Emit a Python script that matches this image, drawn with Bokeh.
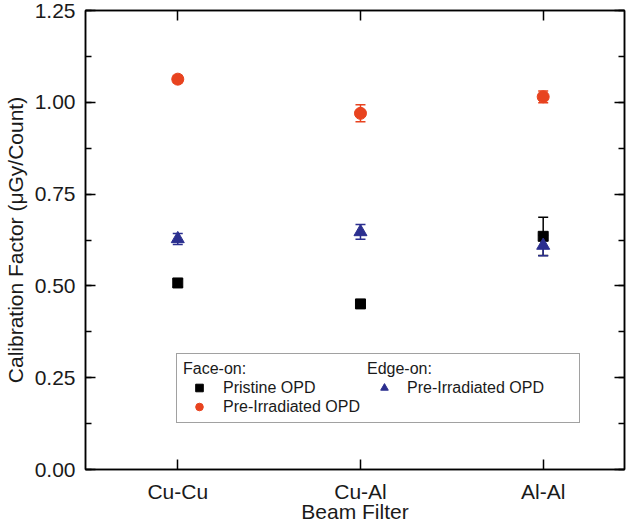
from bokeh.plotting import figure
from bokeh.models import (ColumnDataSource, Whisker, TeeHead, LinearAxis, FixedTicker,
                          SingleIntervalTicker, Range1d, Legend, LegendItem, NumeralTickFormatter,
                          CustomJSTickFormatter)
from bokeh.embed import file_html
from bokeh.resources import INLINE

# ---- data ----
categories = ["Cu-Cu", "Cu-Al", "Al-Al"]
pristine = [0.508, 0.451, 0.635]
pristine_err = [0.010, 0.010, 0.052]
preirr_face = [1.063, 0.970, 1.015]
preirr_face_err = [0.010, 0.023, 0.016]
preirr_edge = [0.628, 0.647, 0.610]
preirr_edge_err = [0.015, 0.020, 0.028]

FONT = "Liberation Sans"
TXT = "#1a1a1a"
RED = "#E8431F"
BLUE = "#2B2F8F"

xs = [i + 1 for i in range(len(categories))]

p = figure(width=632, height=525, x_range=Range1d(0.495, 3.445), y_range=Range1d(0, 1.25),
           output_backend="svg", toolbar_location=None,
           min_border_left=81, min_border_right=8, min_border_top=10, min_border_bottom=40,
           x_axis_location="below", y_axis_location="left")
p.xgrid.visible = False
p.ygrid.visible = False
p.outline_line_color = "black"
p.outline_line_width = 1.5
p.background_fill_color = "white"
p.border_fill_color = "white"

xt = FixedTicker(ticks=xs, minor_ticks=[])
yt = SingleIntervalTicker(interval=0.25, num_minor_ticks=2)
overrides = {x: c for x, c in zip(xs, categories)}


def style_axis(ax, ticker, labels=True):
    ax.ticker = ticker
    ax.axis_line_color = "black"
    ax.axis_line_width = 1.5
    ax.major_tick_in = 10
    ax.major_tick_out = 0
    ax.minor_tick_in = 6
    ax.minor_tick_out = 0
    ax.major_tick_line_color = "black"
    ax.minor_tick_line_color = "black"
    ax.major_tick_line_width = 1.5
    ax.minor_tick_line_width = 1.5
    if labels:
        ax.major_label_text_font = FONT
        ax.major_label_text_font_size = "21px"
        ax.major_label_text_color = TXT
        ax.axis_label_text_font = FONT
        ax.axis_label_text_font_size = "21px"
        ax.axis_label_text_font_style = "normal"
        ax.axis_label_text_color = TXT
    else:
        ax.formatter = CustomJSTickFormatter(code="return ''")
        ax.major_label_text_font_size = "1px"
        ax.major_label_standoff = 0
        ax.axis_label = None
        ax.axis_label_standoff = 0


xa = p.xaxis[0]
style_axis(xa, xt)
xa.major_label_overrides = overrides
xa.axis_label = "Beam Filter"
xa.major_label_standoff = 10
xa.axis_label_standoff = -6

ya = p.yaxis[0]
style_axis(ya, yt)
ya.formatter = NumeralTickFormatter(format="0.00")
ya.axis_label = "Calibration Factor (\u03bcGy/Count)"
ya.major_label_standoff = 10
ya.axis_label_standoff = 5

top = LinearAxis()
style_axis(top, FixedTicker(ticks=xs, minor_ticks=[]), labels=False)
p.add_layout(top, "above")
right = LinearAxis()
style_axis(right, SingleIntervalTicker(interval=0.25, num_minor_ticks=2), labels=False)
p.add_layout(right, "right")


def series(y, err, color, marker, size):
    src = ColumnDataSource(dict(x=xs, y=y,
                                lo=[a - b for a, b in zip(y, err)],
                                hi=[a + b for a, b in zip(y, err)]))
    w = Whisker(source=src, base="x", upper="hi", lower="lo", dimension="height",
                line_color=color, line_width=1.5,
                upper_head=TeeHead(size=10, line_color=color, line_width=1.5),
                lower_head=TeeHead(size=10, line_color=color, line_width=1.5))
    p.add_layout(w)
    return p.scatter("x", "y", source=src, marker=marker, size=size,
                     fill_color=color, line_color=color)


r_black = series(pristine, pristine_err, "black", "square", 10)
r_red = series(preirr_face, preirr_face_err, RED, "circle", 12)
r_blue = series(preirr_edge, preirr_edge_err, BLUE, "triangle", 13)


def style_legend(lg, glyph_w, standoff):
    lg.title_text_font = FONT
    lg.title_text_font_size = "16px"
    lg.title_text_font_style = "normal"
    lg.title_text_color = TXT
    lg.label_text_font = FONT
    lg.label_text_font_size = "16px"
    lg.label_text_color = TXT
    lg.glyph_width = glyph_w
    lg.glyph_height = 19
    lg.label_height = 19
    lg.label_standoff = standoff
    lg.spacing = 0
    lg.padding = 6
    lg.margin = 0
    lg.title_standoff = 0


leg1 = Legend(items=[LegendItem(label="Pristine OPD", renderers=[r_black]),
                     LegendItem(label="Pre-Irradiated OPD", renderers=[r_red])],
              title="Face-on:", location=(91, 46))
style_legend(leg1, 32, 8)
leg1.label_width = 350
leg1.border_line_color = "#444444"
leg1.border_line_width = 1
leg1.background_fill_color = "white"
leg1.background_fill_alpha = 1

leg2 = Legend(items=[LegendItem(label="Pre-Irradiated OPD", renderers=[r_blue])],
              title="Edge-on:", location=(282, 72))
style_legend(leg2, 34, 6)
leg2.border_line_color = None
leg2.background_fill_alpha = 0

p.add_layout(leg1)
p.add_layout(leg2)

open("out.html", "w").write(file_html(p, INLINE))
